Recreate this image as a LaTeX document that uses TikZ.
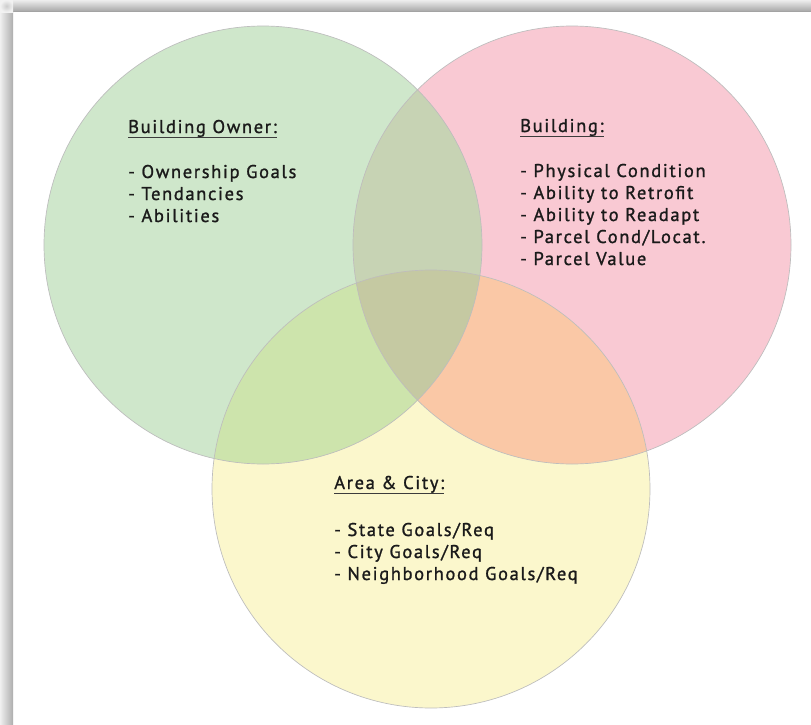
\documentclass[tikz,border=0pt]{standalone}
\usepackage{fontspec}
\setmainfont[LetterSpace=9,FakeBold=1.2]{PT Sans}
\definecolor{cgreen}{HTML}{CFE7CB}
\definecolor{cpink}{HTML}{F9C9D3}
\definecolor{cyellow}{HTML}{FBF7CC}
\definecolor{cgp}{HTML}{C7D3B4}
\definecolor{cgy}{HTML}{CDE4AC}
\definecolor{cpy}{HTML}{FAC8A6}
\definecolor{cgpy}{HTML}{C5C9A2}
\definecolor{ink}{HTML}{1A1A1A}
\definecolor{rim}{HTML}{BDBDBD}
\begin{document}
\begin{tikzpicture}[x=0.75pt,y=-0.75pt,
  lbl/.style={anchor=base west,inner sep=0pt,text=ink,font=\fontsize{13.85}{15}\selectfont},
  uline/.style={draw=ink!85,line width=1.1pt},
  rimline/.style={draw=rim,line width=0.5pt}]
\def\R{164.25pt}
\useasboundingbox (0,0) rectangle (811,725);
\fill[white] (0,0) rectangle (811,725);
% frame shadow
\shade[top color=white!93!black,bottom color=white!66!black] (6,0) rectangle (811,11);
\fill[white!64!black] (6,11) rectangle (811,12);
\shade[left color=white!94!black,right color=white!68!black] (0,12) rectangle (13,725);
\shade[inner color=white!80!black,outer color=white!95!black] (0,0) rectangle (13,12);
% circles
\coordinate (cG) at (263,245);
\coordinate (cP) at (572,245);
\coordinate (cY) at (431,489);
\fill[cgreen] (cG) circle[radius=\R];
\fill[cpink] (cP) circle[radius=\R];
\fill[cyellow] (cY) circle[radius=\R];
\begin{scope}
  \clip (cG) circle[radius=\R];
  \fill[cgp] (cP) circle[radius=\R];
  \fill[cgy] (cY) circle[radius=\R];
\end{scope}
\begin{scope}
  \clip (cP) circle[radius=\R];
  \fill[cpy] (cY) circle[radius=\R];
\end{scope}
\begin{scope}
  \clip (cG) circle[radius=\R];
  \clip (cP) circle[radius=\R];
  \fill[cgpy] (cY) circle[radius=\R];
\end{scope}
\draw[rimline] (cG) circle[radius=\R];
\draw[rimline] (cP) circle[radius=\R];
\draw[rimline] (cY) circle[radius=\R];
% Building owner
\node[lbl] (hO) at (128,133) {Building Owner:};
\draw[uline] ([yshift=-3.2pt]hO.base west) -- ([yshift=-3.2pt]hO.base east);
\node[lbl] (o1) at (128,178) {- Ownership Goals};
\node[lbl] (o2) at (128,200) {- Tendancies};
\node[lbl] (o3) at (128,222) {- Abilities};
% Building
\node[lbl] (hB) at (520,132) {Building:};
\draw[uline] ([yshift=-3.2pt]hB.base west) -- ([yshift=-3.2pt]hB.base east);
\node[lbl] (b1) at (520,177) {- Physical Condition};
\node[lbl] (b2) at (520,199) {- Ability to Retrofit};
\node[lbl] (b3) at (520,221) {- Ability to Readapt};
\node[lbl] (b4) at (520,243) {- Parcel Cond/Locat.};
\node[lbl] (b5) at (520,265) {- Parcel Value};
% Area & City
\node[lbl] (hA) at (334,489) {Area \& City:};
\draw[uline] ([yshift=-3.2pt]hA.base west) -- ([yshift=-3.2pt]hA.base east);
\node[lbl] (a1) at (334,536) {- State Goals/Req};
\node[lbl] (a2) at (334,558) {- City Goals/Req};
\node[lbl] (a3) at (334,580) {- Neighborhood Goals/Req};
\end{tikzpicture}
\end{document}
